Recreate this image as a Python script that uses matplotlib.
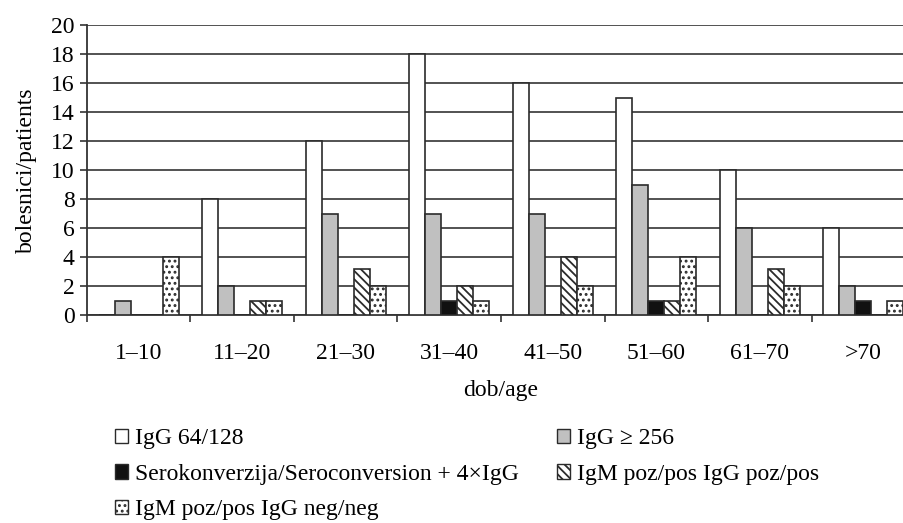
import numpy as np
import matplotlib.pyplot as plt
from matplotlib.patches import Patch

# age groups and counts per serology category
age_groups = ["1–10", "11–20", "21–30", "31–40", "41–50", "51–60", "61–70", ">70"]
igg_64_128 = [0, 8, 12, 18, 16, 15, 10, 6]
igg_256 = [1, 2, 7, 7, 7, 9, 6, 2]
seroconversion = [0, 0, 0, 1, 0, 1, 0, 1]
igm_pos_igg_pos = [0, 1, 3.2, 2, 4, 1, 3.2, 0]
igm_pos_igg_neg = [4, 1, 2, 1, 2, 4, 2, 1]

series_labels = [
    "IgG 64/128",
    "IgG ≥ 256",
    "Serokonverzija/Seroconversion + 4×IgG",
    "IgM poz/pos IgG poz/pos",
    "IgM poz/pos IgG neg/neg",
]

plt.rcParams["font.family"] = ["Liberation Serif", "DejaVu Serif"]
plt.rcParams["hatch.linewidth"] = 1.3

edge = "#2b2b2b"
styles = [
    dict(facecolor="white", hatch=None),
    dict(facecolor="#c0c0c0", hatch=None),
    dict(facecolor="#111111", hatch=None),
    dict(facecolor="white", hatch="\\\\\\\\"),
    dict(facecolor="white", hatch="..."),
]

fs = 17
fig = plt.figure(figsize=(9.04, 5.23), dpi=100)
ax = fig.add_axes([0.0962, 0.3977, 0.916, 0.5545])

series = [igg_64_128, igg_256, seroconversion, igm_pos_igg_pos, igm_pos_igg_neg]
x = np.arange(len(age_groups))
w = 0.155
handles = []
for k, (vals, st) in enumerate(zip(series, styles)):
    ax.bar(x + (k - 2) * w, vals, width=w, facecolor=st["facecolor"], hatch=st["hatch"],
           edgecolor=edge, linewidth=1.2, zorder=3)
    handles.append(Patch(facecolor=st["facecolor"], hatch=st["hatch"], edgecolor=edge,
                         linewidth=1.0, label=series_labels[k]))

ax.set_xlim(-0.5, len(age_groups) - 0.5)
ax.set_ylim(0, 20)
ax.set_yticks(range(0, 21, 2))
ax.yaxis.grid(True, color="#444444", linewidth=1.3, zorder=0)
ax.set_axisbelow(True)

ax.set_xticks(x)
ax.set_xticklabels(age_groups)
ax.set_xticks(np.arange(-0.5, len(age_groups) + 0.5, 1), minor=True)
ax.tick_params(axis="x", which="major", length=0, pad=20, labelsize=fs)
ax.tick_params(axis="x", which="minor", length=5, width=1.2, color="#333333", direction="out")
ax.tick_params(axis="y", length=5, width=1.2, color="#333333", labelsize=fs, pad=4)

for side in ["top", "right"]:
    ax.spines[side].set_visible(False)
for side in ["left", "bottom"]:
    ax.spines[side].set_color("#333333")
    ax.spines[side].set_linewidth(1.3)

ax.set_xlabel("dob/age", fontsize=fs, labelpad=12)
ax.set_ylabel("bolesnici/patients", fontsize=fs, labelpad=10)

leg_kw = dict(frameon=False, fontsize=fs, handlelength=0.55, handleheight=0.55,
              handletextpad=0.3, labelspacing=0.62, borderpad=0, loc="upper left")
fig.legend(handles=[handles[0], handles[2], handles[4]], bbox_to_anchor=(0.114, 0.204), **leg_kw)
fig.legend(handles=[handles[1], handles[3]], bbox_to_anchor=(0.603, 0.204), **leg_kw)

fig.savefig("out.png", dpi=100)
